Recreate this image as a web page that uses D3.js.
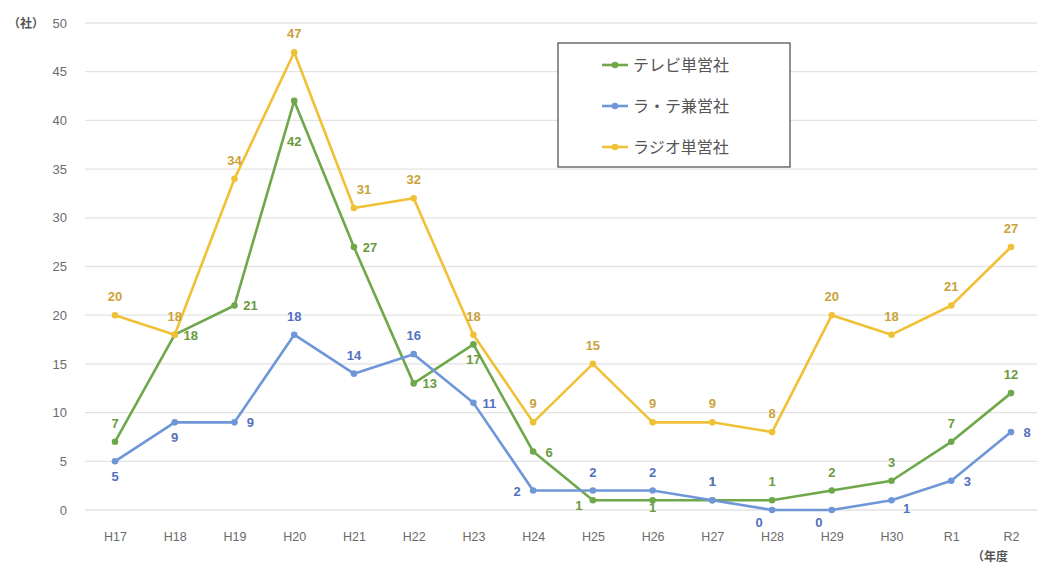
<!DOCTYPE html>
<html>
<head>
<meta charset="utf-8">
<script src="https://cdn.jsdelivr.net/npm/d3@7"></script>
<style>
  html, body { margin: 0; padding: 0; background: #fff; }
  svg { display: block; font-family: "Liberation Sans", Arial, "Noto Sans CJK JP", sans-serif; }
</style>
</head>
<body>
<svg id="chart" width="1037" height="566"></svg>
<script>
// Fiscal years
const years = ["H17","H18","H19","H20","H21","H22","H23","H24","H25","H26","H27","H28","H29","H30","R1","R2"];

// Number of companies per category
const tvOnly    = [7, 18, 21, 42, 27, 13, 17, 6, 1, 1, 1, 1, 2, 3, 7, 12];
const combined  = [5, 9, 9, 18, 14, 16, 11, 2, 2, 2, 1, 0, 0, 1, 3, 8];
const radioOnly = [20, 18, 34, 47, 31, 32, 18, 9, 15, 9, 9, 8, 20, 18, 21, 27];

// Where each value label sits relative to its point
const tvLabelPos    = ["t","r","r","bf","r","r","b","r","ln","bn","t","t","t","t","t","t"];
const combLabelPos  = ["b","b","r","t","t","t","r","l","t","t","t","bl","bl","br","r","r"];
const radioLabelPos = ["t","t","t","t","tr","t","t","t","t","t","t","t","t","t","t","t"];

const yTicks = [0, 5, 10, 15, 20, 25, 30, 35, 40, 45, 50];

const series = [
  { name: "テレビ単営社", values: tvOnly,    pos: tvLabelPos,    line: "#6fa84a", text: "#6a9a3c" },
  { name: "ラ・テ兼営社", values: combined,  pos: combLabelPos,  line: "#6f97d8", text: "#5470c0" },
  { name: "ラジオ単営社", values: radioOnly, pos: radioLabelPos, line: "#f0c136", text: "#c9a33a" }
];

const svg = d3.select("#chart");
const plotLeft = 85, plotRight = 1041;

const x = d3.scalePoint().domain(years).range([115, 1011]);
const y = d3.scaleLinear().domain([0, 50]).range([510, 23]);

// Horizontal gridlines
svg.append("g").selectAll("line").data(yTicks).join("line")
  .attr("x1", plotLeft).attr("x2", plotRight)
  .attr("y1", d => y(d)).attr("y2", d => y(d))
  .attr("stroke", "#e3e3e3").attr("stroke-width", 1.3);

// Y axis
const yAxis = svg.append("g").attr("transform", `translate(${plotLeft - 18},0)`)
  .call(d3.axisLeft(y).tickValues(yTicks).tickSize(0).tickPadding(0));
yAxis.select(".domain").remove();
yAxis.selectAll("text").attr("fill", "#6b6b6b").attr("font-size", 13);

// X axis
const xAxis = svg.append("g").attr("transform", `translate(0,${y(0) + 22})`)
  .call(d3.axisBottom(x).tickSize(0).tickPadding(0));
xAxis.select(".domain").remove();
xAxis.selectAll("text").attr("fill", "#6b6b6b").attr("font-size", 12.5);

// Axis unit labels
svg.append("text").attr("x", 8).attr("y", y(50) + 5)
  .attr("font-size", 12).attr("font-weight", "bold").attr("fill", "#555").text("（社）");
svg.append("text").attr("x", 972).attr("y", 561)
  .attr("font-size", 12).attr("font-weight", "bold").attr("fill", "#555").text("（年度");

const line = d3.line().x((d, i) => x(years[i])).y(d => y(d));

// Lines and markers
series.forEach(s => {
  const g = svg.append("g");
  g.append("path").datum(s.values)
    .attr("d", line).attr("fill", "none")
    .attr("stroke", s.line).attr("stroke-width", 2.6).attr("stroke-linejoin", "round");
  g.selectAll("circle").data(s.values).join("circle")
    .attr("cx", (d, i) => x(years[i])).attr("cy", d => y(d))
    .attr("r", 3.3).attr("fill", s.line);
});

// Value labels
const offsets = {
  t:  [0, -14], b: [0, 20], r: [16, 5], l: [-16, 5],
  tr: [10, -14], bl: [-13, 17], br: [15, 13],
  bf: [0, 45], ln: [-14, 10], bn: [0, 12]
};
series.forEach(s => {
  svg.append("g").selectAll("text").data(s.values).join("text")
    .attr("x", (d, i) => x(years[i]) + offsets[s.pos[i]][0])
    .attr("y", (d, i) => y(d) + offsets[s.pos[i]][1])
    .attr("text-anchor", "middle")
    .attr("font-size", 13).attr("font-weight", "bold")
    .attr("fill", s.text)
    .text(d => d);
});

// Legend
const legend = svg.append("g").attr("transform", "translate(558,43)");
legend.append("rect").attr("width", 232).attr("height", 124)
  .attr("fill", "#fff").attr("stroke", "#555").attr("stroke-width", 1.3);
series.forEach((s, i) => {
  const cy = 22 + i * 41;
  legend.append("line").attr("x1", 44).attr("x2", 70).attr("y1", cy).attr("y2", cy)
    .attr("stroke", s.line).attr("stroke-width", 2.6);
  legend.append("circle").attr("cx", 57).attr("cy", cy).attr("r", 3.3).attr("fill", s.line);
  legend.append("text").attr("x", 75).attr("y", cy + 6)
    .attr("font-size", 16).attr("fill", "#555").text(s.name);
});
</script>
</body>
</html>
